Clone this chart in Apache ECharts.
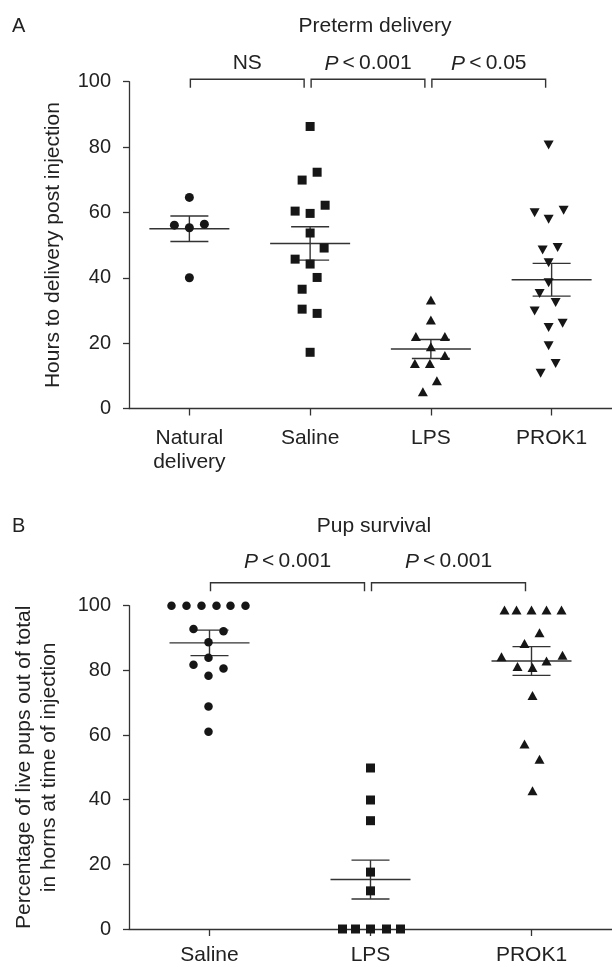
<!DOCTYPE html>
<html><head><meta charset="utf-8">
<script src="https://cdn.jsdelivr.net/npm/echarts@6/dist/echarts.min.js"></script>
<style>html,body{margin:0;padding:0;background:#fff}#c{width:612px;height:967px}</style>
</head><body><div id="c"></div>
<script>
// ---------- Panel A: Preterm delivery (hours to delivery post injection) ----------
const catsA = ['Natural\ndelivery', 'Saline', 'LPS', 'PROK1'];
const naturalA = [64.6, 56.1, 55.3, 56.4, 40.0];
const salineA = [86.3, 72.3, 69.9, 60.4, 59.7, 62.2, 53.7, 49.1, 45.7, 44.2, 40.1, 36.5, 30.4, 29.1, 17.2];
const lpsA = [33.2, 27.1, 22.0, 22.0, 18.9, 16.2, 13.8, 13.8, 8.5, 5.1];
const prok1A = [80.6, 59.9, 60.7, 57.9, 48.5, 49.3, 44.6, 38.5, 35.2, 32.4, 29.8, 26.1, 24.8, 19.2, 13.8, 10.8];
const meanA = [55.0, 50.5, 18.2, 39.4];
const semA = [3.9, 5.1, 2.9, 5.0];
const compareA = [[0, 1], [1, 2], [2, 3]];
const compareLabelsA = ['NS', 'P<0.001', 'P<0.05'];

// ---------- Panel B: Pup survival (% live pups) ----------
const catsB = ['Saline', 'LPS', 'PROK1'];
const salineB = [100, 100, 100, 100, 100, 100, 92.8, 92.1, 88.7, 83.9, 81.7, 80.6, 78.3, 68.8, 61.0];
const lpsB = [49.8, 39.9, 33.5, 17.6, 11.8, 0, 0, 0, 0, 0];
const prok1B = [98.7, 98.7, 98.7, 98.7, 98.7, 91.6, 88.3, 84.2, 84.7, 82.9, 81.2, 80.9, 72.2, 57.2, 52.5, 42.8];
const meanB = [88.5, 15.3, 82.9];
const semB = [3.95, 6.0, 4.45];
const compareB = [[0, 1], [1, 2]];
const compareLabelsB = ['P<0.001', 'P<0.001'];

const yTicks = [0, 20, 40, 60, 80, 100];

// ---------- layout (horizontal dot spread, px) ----------
const jitterA = [
  [0, -15, 0, 15, 0],
  [0, 7, -8, -15, 0, 15, 0, 14, -15, 0, 7, -8, -8, 7, 0],
  [0, 0, -15, 14, 0, 14, -16, -1, 6, -8],
  [-3, -17, 12, -3, -9, 6, -3, -3, -12, 4, -17, 11, -3, -3, 4, -11]
];
const jitterB = [
  [-38, -23, -8, 7, 21, 36, -16, 14, -1, -1, -16, 14, -1, -1, -1],
  [0, 0, 0, 0, 0, -28, -15, 0, 16, 30],
  [-27, -15, 0, 15, 30, 8, -7, -30, 31, 15, -14, 1, 1, -7, 8, 1]
];

const FONT = 'Liberation Sans, Arial, Helvetica, sans-serif';
const INK = '#222';
const LINE = '#333';
const DOT = '#161616';

function dots(values, cat, jit, symbol, size, rot, gi) {
  return {
    type: 'scatter', xAxisIndex: gi, yAxisIndex: gi,
    symbol: symbol, symbolSize: size, symbolRotate: rot || 0,
    itemStyle: { color: DOT, opacity: 1 },
    emphasis: { disabled: true },
    silent: true, z: 5,
    data: values.map((v, i) => ({ value: [cat, v], symbolOffset: [jit[i], 0] }))
  };
}

function meanSem(means, sems, gi) {
  return {
    type: 'custom', xAxisIndex: gi, yAxisIndex: gi, silent: true, z: 4,
    data: means.map((m, i) => [i, m, sems[i]]),
    renderItem: function (params, api) {
      const x = api.value(0), m = api.value(1), s = api.value(2);
      const c = api.coord([x, m]), hi = api.coord([x, m + s]), lo = api.coord([x, m - s]);
      const st = { stroke: LINE, lineWidth: 1.4 };
      return { type: 'group', children: [
        { type: 'line', shape: { x1: c[0] - 40, y1: c[1], x2: c[0] + 40, y2: c[1] }, style: st },
        { type: 'line', shape: { x1: c[0], y1: hi[1], x2: c[0], y2: lo[1] }, style: st },
        { type: 'line', shape: { x1: c[0] - 19, y1: hi[1], x2: c[0] + 19, y2: hi[1] }, style: st },
        { type: 'line', shape: { x1: c[0] - 19, y1: lo[1], x2: c[0] + 19, y2: lo[1] }, style: st }
      ] };
    }
  };
}

function richP(label) {
  if (label.charAt(0) === 'P') return '{i|P}\u2009<\u2009' + label.split('<')[1];
  return label;
}

function brackets(pairs, labels, gi, raise, textGap) {
  return {
    type: 'custom', xAxisIndex: gi, yAxisIndex: gi, silent: true, z: 4, clip: false,
    data: pairs.map(p => [p[0], p[1]]),
    renderItem: function (params, api) {
      const a = api.coord([api.value(0), 100]), b = api.coord([api.value(1), 100]);
      const y = a[1] - raise, x1 = a[0] + 1, x2 = b[0] - 6, leg = 8.5;
      return { type: 'group', children: [
        { type: 'polyline', shape: { points: [[x1, y + leg], [x1, y], [x2, y], [x2, y + leg]] },
          style: { stroke: LINE, lineWidth: 1.4, fill: null } },
        { type: 'text', style: {
            text: richP(labels[params.dataIndex]), x: (x1 + x2) / 2, y: y - textGap,
            align: 'center', verticalAlign: 'middle',
            fontSize: 21, fontFamily: FONT, fill: INK,
            rich: { i: { fontStyle: 'italic', fontSize: 21, fontFamily: FONT, fill: INK } } } }
      ] };
    }
  };
}

const axisLineStyle = { color: LINE, width: 1.3 };

function xAxisOf(cats, gi, margin) {
  return {
    type: 'category', gridIndex: gi, data: cats, boundaryGap: true,
    axisLine: { show: true, lineStyle: axisLineStyle },
    axisTick: { show: true, alignWithLabel: true, length: 7, lineStyle: axisLineStyle },
    axisLabel: { interval: 0, fontSize: 21, fontFamily: FONT, color: INK, margin: margin, lineHeight: 24 },
    splitLine: { show: false }
  };
}
function yAxisOf(gi, name, gap) {
  return {
    type: 'value', gridIndex: gi, min: yTicks[0], max: yTicks[yTicks.length - 1], interval: 20,
    axisLine: { show: true, lineStyle: axisLineStyle },
    axisTick: { show: true, length: 6, lineStyle: axisLineStyle },
    axisLabel: { fontSize: 20, fontFamily: FONT, color: INK, margin: 18 },
    splitLine: { show: false },
    name: name, nameLocation: 'middle', nameGap: gap,
    nameTextStyle: { fontSize: 21, fontFamily: FONT, color: INK, lineHeight: 25 }
  };
}

function gtext(text, x, y, align, size) {
  return { type: 'text', x: x, y: y, silent: true,
    style: { text: text, align: align, verticalAlign: 'middle', textAlign: align, textVerticalAlign: 'middle',
      fontSize: size, fontFamily: FONT, fill: INK } };
}

const chart = echarts.init(document.getElementById('c'), null, { renderer: 'canvas' });
chart.setOption({
  animation: false,
  backgroundColor: '#fff',
  grid: [
    { left: 129, top: 81.7, width: 490, height: 326.8 },
    { left: 129, top: 605.7, width: 490, height: 327 }
  ],
  xAxis: [xAxisOf(catsA, 0, 18), xAxisOf(catsB, 1, 14)],
  yAxis: [
    yAxisOf(0, 'Hours to delivery post injection', 63),
    yAxisOf(1, 'Percentage of live pups out of total\nin horns at time of injection', 67)
  ],
  graphic: [
    gtext('A', 12, 26, 'left', 20),
    gtext('Preterm delivery', 375, 26, 'center', 21),
    gtext('B', 12, 526, 'left', 20),
    gtext('Pup survival', 374, 526, 'center', 21)
  ],
  series: [
    dots(naturalA, 0, jitterA[0], 'circle', 9, 0, 0),
    dots(salineA, 1, jitterA[1], 'rect', 9, 0, 0),
    dots(lpsA, 2, jitterA[2], 'triangle', [10, 9], 0, 0),
    dots(prok1A, 3, jitterA[3], 'triangle', [10, 9], 180, 0),
    meanSem(meanA, semA, 0),
    brackets(compareA, compareLabelsA, 0, 2.4, 15.6),
    dots(salineB, 0, jitterB[0], 'circle', 8.5, 0, 1),
    dots(lpsB, 1, jitterB[1], 'rect', 9, 0, 1),
    dots(prok1B, 2, jitterB[2], 'triangle', [10, 9], 0, 1),
    meanSem(meanB, semB, 1),
    brackets(compareB, compareLabelsB, 1, 23, 21)
  ]
});
</script>
</body></html>
